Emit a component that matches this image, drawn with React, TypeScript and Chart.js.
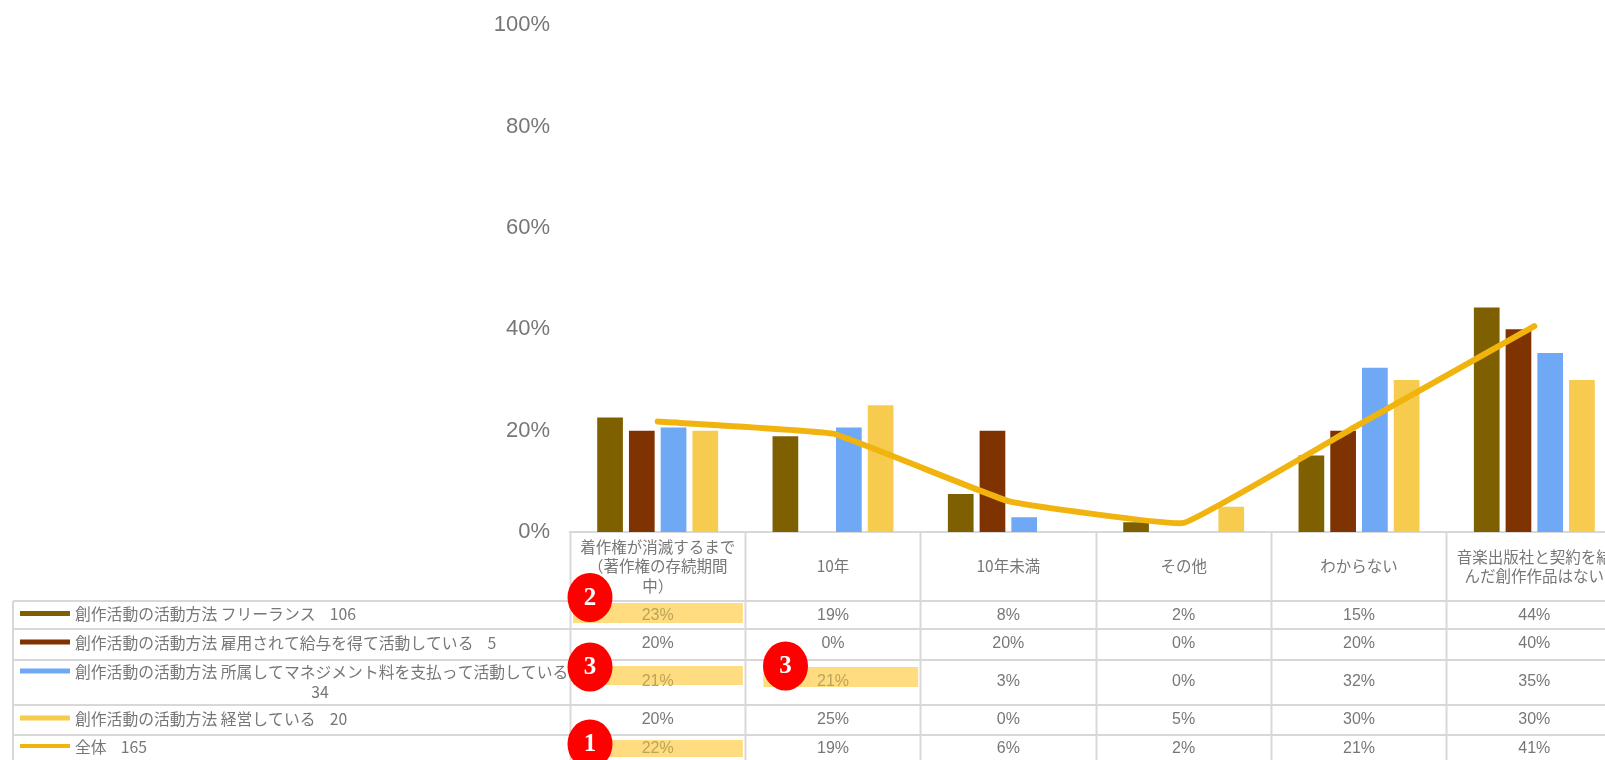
import React, { useEffect, useRef } from "react";
import { Chart, registerables } from "chart.js";

Chart.register(...registerables);

const categories: string[][] = [
  ["着作権が消滅するまで", "（著作権の存続期間", "中）"],
  ["10年"],
  ["10年未満"],
  ["その他"],
  ["わからない"],
  ["音楽出版社と契約を結", "んだ創作作品はない"],
];
const freelance = [22.6, 18.9, 7.5, 1.9, 15.1, 44.3];
const employed = [20, 0, 20, 0, 20, 40];
const managed = [20.6, 20.6, 2.9, 0, 32.4, 35.3];
const owner = [20, 25, 0, 5, 30, 30];
const total = [21.8, 19.4, 6.1, 1.8, 21.2, 40.6];
const seriesNames = [
  "創作活動の活動方法 フリーランス    106",
  "創作活動の活動方法 雇用されて給与を得て活動している    5",
  "創作活動の活動方法 所属してマネジメント料を支払って活動している",
  "創作活動の活動方法 経営している    20",
  "全体    165",
];
const colors = ["#7F6000", "#7F3300", "#6FA8F5", "#F7CB4D", "#F1B40F"];
const rowValues = [freelance, employed, managed, owner, total];
const highlightCells = [[0, 0], [2, 0], [2, 1], [4, 0]];
const badges = [
  { n: "2", row: 0, col: 0 },
  { n: "3", row: 2, col: 0 },
  { n: "3", row: 2, col: 1 },
  { n: "1", row: 4, col: 0 },
];

const GRID = "#d8d8d8";
const TEXT = "#777777";
const rowLines = [601, 629, 660, 705, 735];
const rowMid = [615.5, 644, 682, 720, 748.5];
const CJK = '"Noto Sans CJK JP", "Liberation Sans", sans-serif';

const tablePlugin = {
  id: "tablePlugin",
  afterDraw(chart: any) {
    const { ctx, scales } = chart;
    const x = scales.x;
    const colLeft = (c: number) => x.left + ((x.right - x.left) / categories.length) * c;
    const colW = (x.right - x.left) / categories.length;
    ctx.save();
    // highlights
    ctx.fillStyle = "#FFDC7F";
    const hY: Record<string, [number, number, number]> = {
      "0-0": [603, 20, 3],
      "2-0": [666, 19, 3],
      "2-1": [667, 20, 18],
      "4-0": [740, 17, 3],
    };
    highlightCells.forEach(([r, c]) => {
      const [top, h, inset] = hY[`${r}-${c}`];
      ctx.fillRect(colLeft(c) + inset, top, colW - inset - 2.5, h);
    });
    // row rules
    ctx.strokeStyle = GRID;
    ctx.lineWidth = 2;
    ctx.beginPath();
    rowLines.forEach((y) => {
      ctx.moveTo(13, y);
      ctx.lineTo(x.right, y);
    });
    ctx.moveTo(13, rowLines[0]);
    ctx.lineTo(13, 760);
    ctx.stroke();
    // legend column
    ctx.textBaseline = "middle";
    seriesNames.forEach((name, r) => {
      const twoLine = r === 2;
      const y = twoLine ? 673 : rowMid[r];
      ctx.fillStyle = colors[r];
      ctx.fillRect(20, y - 4.5, 50, r === 4 ? 4 : 5);
      ctx.fillStyle = TEXT;
      ctx.font = `15.8px ${CJK}`;
      ctx.textAlign = "left";
      ctx.fillText(name, 75, y - 1.5);
      if (twoLine) {
        ctx.textAlign = "center";
        ctx.fillText("34", 320, 691.5);
      }
    });
    // values
    ctx.textAlign = "center";
    ctx.font = `16px "Liberation Sans", sans-serif`;
    rowValues.forEach((vals, r) => {
      vals.forEach((v, c) => {
        const hit = highlightCells.some(([a, b]) => a === r && b === c);
        ctx.fillStyle = hit ? "#B9A45A" : TEXT;
        ctx.fillText(`${Math.round(v)}%`, x.getPixelForTick(c), rowMid[r]);
      });
    });
    // numbered badges
    const badgePos: Record<string, [number, number]> = {
      "0-0": [590, 597.5],
      "2-0": [590, 667],
      "2-1": [785.5, 666],
      "4-0": [590, 744],
    };
    badges.forEach((b) => {
      const [cx, cy] = badgePos[`${b.row}-${b.col}`];
      ctx.fillStyle = "#FF0000";
      ctx.beginPath();
      ctx.ellipse(cx, cy, 22.5, 24.5, 0, 0, Math.PI * 2);
      ctx.fill();
      ctx.fillStyle = "#FFFFFF";
      ctx.font = `bold 25px "Liberation Serif", serif`;
      ctx.fillText(b.n, cx, cy + 1);
    });
    ctx.restore();
  },
};

export default function App() {
  const ref = useRef<HTMLCanvasElement>(null);
  useEffect(() => {
    const chart = new Chart(ref.current!, {
      type: "bar",
      data: {
        labels: categories,
        datasets: [
          { type: "line", label: seriesNames[4], data: total, borderColor: colors[4], borderWidth: 6, pointRadius: 0, tension: 0.08, order: 0, fill: false, borderCapStyle: "round" },
          { label: seriesNames[0], data: freelance, backgroundColor: colors[0], order: 1 },
          { label: seriesNames[1], data: employed, backgroundColor: colors[1], order: 1 },
          { label: seriesNames[2], data: managed, backgroundColor: colors[2], order: 1 },
          { label: seriesNames[3], data: owner, backgroundColor: colors[3], order: 1 },
        ] as any,
      },
      options: {
        responsive: false,
        animation: false,
        layout: { padding: { top: 15, left: 0, right: 0, bottom: 0 } },
        datasets: { bar: { categoryPercentage: 0.724, barPercentage: 0.81 } },
        plugins: { legend: { display: false }, tooltip: { enabled: false }, title: { display: false } },
        scales: {
          x: {
            afterFit: (s: any) => { s.height = 228; },
            border: { color: GRID, width: 2 },
            grid: { drawOnChartArea: false, tickColor: GRID, tickLength: 228, tickWidth: 2 },
            ticks: {
              autoSkip: false,
              maxRotation: 0,
              minRotation: 0,
              padding: -213,
              crossAlign: "center",
              color: TEXT,
              font: { family: CJK, size: 15.5, lineHeight: 1.25 },
            },
          },
          y: {
            min: 0,
            max: 100,
            afterFit: (s: any) => { s.width = 570; },
            border: { display: false },
            grid: { display: false },
            ticks: {
              stepSize: 20,
              padding: 12,
              color: TEXT,
              font: { family: '"Liberation Sans", sans-serif', size: 22 },
              callback: (v: any) => `${v}%`,
            },
          },
        },
      } as any,
      plugins: [tablePlugin],
    });
    return () => chart.destroy();
  }, []);
  return (
    <div style={{ position: "absolute", left: 0, top: 0, width: 1605, height: 760, overflow: "hidden", background: "#fff" }}>
      <canvas ref={ref} width={1622} height={760} style={{ display: "block", filter: "blur(0.6px)" }} />
    </div>
  );
}
